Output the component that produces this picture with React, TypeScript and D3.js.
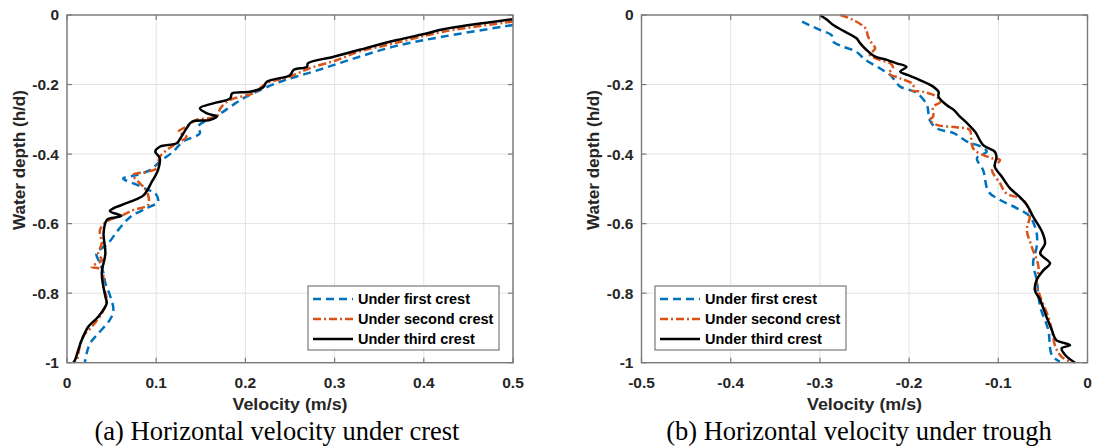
import React from 'react';
import * as d3 from 'd3';

// ---- Data: [velocity (m/s), relative depth h/d] ----
const crestTicks = [0, 0.1, 0.2, 0.3, 0.4, 0.5];
const troughTicks = [-0.5, -0.4, -0.3, -0.2, -0.1, 0];
const depthTicks = [0, -0.2, -0.4, -0.6, -0.8, -1];
const seriesNames = ['Under first crest', 'Under second crest', 'Under third crest'];

const crestFirst: [number, number][] = [
  [0.5, -0.029], [0.422, -0.062], [0.366, -0.091], [0.317, -0.129], [0.276, -0.163], [0.239, -0.192],
  [0.201, -0.235], [0.183, -0.264], [0.172, -0.283], [0.157, -0.302], [0.147, -0.321], [0.149, -0.34],
  [0.13, -0.364], [0.119, -0.393], [0.104, -0.422], [0.093, -0.446], [0.078, -0.46], [0.063, -0.47],
  [0.078, -0.488], [0.091, -0.503], [0.099, -0.513], [0.102, -0.537], [0.089, -0.556], [0.074, -0.575],
  [0.067, -0.59], [0.0575, -0.618], [0.046, -0.657], [0.033, -0.686], [0.037, -0.714], [0.041, -0.743],
  [0.043, -0.771], [0.048, -0.805], [0.052, -0.848], [0.048, -0.877], [0.035, -0.916], [0.026, -0.944],
  [0.022, -0.973], [0.02, -1.0],
];
const crestSecond: [number, number][] = [
  [0.5, -0.019], [0.422, -0.048], [0.366, -0.082], [0.328, -0.105], [0.302, -0.13], [0.272, -0.153],
  [0.25, -0.177], [0.224, -0.196], [0.209, -0.225], [0.183, -0.244], [0.172, -0.268], [0.168, -0.292],
  [0.145, -0.302], [0.134, -0.321], [0.125, -0.336], [0.134, -0.35], [0.123, -0.369], [0.112, -0.388],
  [0.104, -0.408], [0.1006, -0.441], [0.089, -0.451], [0.074, -0.46], [0.08, -0.48], [0.087, -0.498],
  [0.091, -0.518], [0.091, -0.546], [0.074, -0.561], [0.063, -0.575], [0.0445, -0.594], [0.037, -0.618],
  [0.039, -0.657], [0.035, -0.686], [0.039, -0.705], [0.0277, -0.724], [0.039, -0.733], [0.041, -0.781],
  [0.0445, -0.82], [0.039, -0.858], [0.028, -0.896], [0.018, -0.925], [0.0127, -0.973], [0.011, -1.0],
];
const crestThird: [number, number][] = [
  [0.5, -0.012], [0.422, -0.041], [0.403, -0.053], [0.37, -0.072], [0.328, -0.1], [0.299, -0.12],
  [0.27, -0.139], [0.269, -0.149], [0.254, -0.158], [0.25, -0.173], [0.224, -0.192], [0.22, -0.208],
  [0.205, -0.221], [0.185, -0.226], [0.183, -0.24], [0.164, -0.254], [0.149, -0.268], [0.157, -0.283],
  [0.168, -0.292], [0.16, -0.302], [0.14, -0.307], [0.134, -0.326], [0.127, -0.355], [0.123, -0.369],
  [0.104, -0.379], [0.099, -0.393], [0.104, -0.412], [0.102, -0.446], [0.095, -0.48], [0.086, -0.518],
  [0.071, -0.537], [0.052, -0.556], [0.048, -0.564], [0.061, -0.578], [0.048, -0.585], [0.0445, -0.59],
  [0.041, -0.628], [0.043, -0.686], [0.039, -0.743], [0.043, -0.81], [0.0445, -0.829], [0.035, -0.868],
  [0.024, -0.896], [0.0165, -0.935], [0.0127, -0.963], [0.009, -0.992], [0.007, -1.0],
];

const troughFirst: [number, number][] = [
  [-0.32, -0.019], [-0.3, -0.043], [-0.287, -0.058], [-0.285, -0.077], [-0.274, -0.091], [-0.259, -0.106],
  [-0.249, -0.129], [-0.233, -0.153], [-0.221, -0.173], [-0.21, -0.206], [-0.199, -0.216], [-0.191, -0.225],
  [-0.18, -0.259], [-0.177, -0.302], [-0.169, -0.326], [-0.15, -0.34], [-0.135, -0.364], [-0.119, -0.379],
  [-0.113, -0.393], [-0.124, -0.412], [-0.117, -0.446], [-0.111, -0.508], [-0.098, -0.532], [-0.079, -0.556],
  [-0.0645, -0.58], [-0.057, -0.628], [-0.057, -0.666], [-0.061, -0.714], [-0.057, -0.762], [-0.053, -0.839],
  [-0.044, -0.906], [-0.04, -0.978], [-0.031, -0.997],
];
const troughSecond: [number, number][] = [
  [-0.277, 0], [-0.263, -0.014], [-0.249, -0.038], [-0.246, -0.062], [-0.242, -0.081], [-0.238, -0.096],
  [-0.244, -0.115], [-0.233, -0.129], [-0.221, -0.139], [-0.218, -0.153], [-0.223, -0.168], [-0.21, -0.182],
  [-0.195, -0.201], [-0.197, -0.216], [-0.184, -0.221], [-0.169, -0.235], [-0.165, -0.25], [-0.173, -0.264],
  [-0.173, -0.292], [-0.177, -0.302], [-0.169, -0.316], [-0.147, -0.323], [-0.132, -0.331], [-0.13, -0.369],
  [-0.127, -0.388], [-0.107, -0.412], [-0.098, -0.417], [-0.107, -0.446], [-0.098, -0.484], [-0.091, -0.513],
  [-0.072, -0.532], [-0.0645, -0.575], [-0.068, -0.618], [-0.0626, -0.666], [-0.055, -0.724], [-0.057, -0.772],
  [-0.053, -0.81], [-0.044, -0.868], [-0.04, -0.906], [-0.036, -0.954], [-0.029, -0.983], [-0.0196, -0.997],
];
const troughThird: [number, number][] = [
  [-0.3, 0], [-0.292, -0.014], [-0.285, -0.029], [-0.272, -0.048], [-0.259, -0.067], [-0.255, -0.081],
  [-0.248, -0.1], [-0.238, -0.12], [-0.225, -0.129], [-0.214, -0.139], [-0.203, -0.149], [-0.21, -0.163],
  [-0.201, -0.173], [-0.188, -0.187], [-0.173, -0.206], [-0.167, -0.221], [-0.167, -0.235], [-0.158, -0.259],
  [-0.15, -0.273], [-0.143, -0.292], [-0.135, -0.311], [-0.126, -0.336], [-0.117, -0.374], [-0.104, -0.393],
  [-0.102, -0.408], [-0.104, -0.436], [-0.096, -0.465], [-0.087, -0.498], [-0.076, -0.523], [-0.068, -0.546],
  [-0.061, -0.58], [-0.051, -0.623], [-0.0476, -0.657], [-0.053, -0.686], [-0.042, -0.714], [-0.049, -0.733],
  [-0.057, -0.762], [-0.059, -0.791], [-0.053, -0.82], [-0.046, -0.868], [-0.04, -0.906], [-0.035, -0.935],
  [-0.0196, -0.949], [-0.029, -0.959], [-0.025, -0.978], [-0.014, -1.0],
];

// ---- Styling ----
const seriesStyles = [
  { color: '#0072BD', dash: '8,5' },
  { color: '#D95319', dash: '8,3,2,3' },
  { color: '#000000', dash: undefined as string | undefined },
];

const sansStyle = { fontFamily: 'Liberation Sans, Arial, sans-serif', fontWeight: 700 };
const serifStyle = { fontFamily: 'Liberation Serif, Times New Roman, serif' };

const TOP = 15;
const BOTTOM = 362.7;

interface PanelProps {
  x0: number;
  x1: number;
  domain: [number, number];
  ticks: number[];
  series: [number, number][][];
  caption: string;
  captionX: number;
  legendX: number;
  labelX: number;
}

function Panel({ x0, x1, domain, ticks, series, caption, captionX, legendX, labelX }: PanelProps) {
  const x = d3.scaleLinear().domain(domain).range([x0, x1]);
  const y = d3.scaleLinear().domain([-1, 0]).range([BOTTOM, TOP]);
  const line = d3
    .line<[number, number]>()
    .x((d) => x(d[0]))
    .y((d) => y(d[1]))
    .curve(d3.curveCatmullRom.alpha(0.5));
  const tickLen = 5;
  const frame = '#7a7a7a';
  const legendW = 191;
  const legendH = 64;
  const legendY = 286;
  const midX = (x0 + x1) / 2;

  return (
    <g>
      {/* grid */}
      {ticks.map((t) => (
        <line key={'gx' + t} x1={x(t)} x2={x(t)} y1={TOP} y2={BOTTOM} stroke="#e3e3e3" strokeWidth={1} />
      ))}
      {depthTicks.map((t) => (
        <line key={'gy' + t} x1={x0} x2={x1} y1={y(t)} y2={y(t)} stroke="#e3e3e3" strokeWidth={1} />
      ))}

      {/* profiles */}
      <g>
        {series.map((s, i) => (
          <path
            key={i}
            d={line(s) || ''}
            fill="none"
            stroke={seriesStyles[i].color}
            strokeWidth={2.5}
            strokeDasharray={seriesStyles[i].dash}
          />
        ))}
      </g>

      {/* frame and ticks */}
      <rect x={x0} y={TOP} width={x1 - x0} height={BOTTOM - TOP} fill="none" stroke={frame} strokeWidth={1.4} />
      {ticks.map((t) => (
        <g key={'tx' + t}>
          <line x1={x(t)} x2={x(t)} y1={BOTTOM} y2={BOTTOM - tickLen} stroke={frame} strokeWidth={1.2} />
          <line x1={x(t)} x2={x(t)} y1={TOP} y2={TOP + tickLen} stroke={frame} strokeWidth={1.2} />
          <text x={x(t)} y={388} textAnchor="middle" style={{ ...sansStyle, fontSize: 15.5 }} fill="#262626">
            {String(t)}
          </text>
        </g>
      ))}
      {depthTicks.map((t) => (
        <g key={'ty' + t}>
          <line x1={x0} x2={x0 + tickLen} y1={y(t)} y2={y(t)} stroke={frame} strokeWidth={1.2} />
          <line x1={x1} x2={x1 - tickLen} y1={y(t)} y2={y(t)} stroke={frame} strokeWidth={1.2} />
          <text
            x={x0 - 8}
            y={y(t)}
            dy="0.35em"
            textAnchor="end"
            style={{ ...sansStyle, fontSize: 15.5 }}
            fill="#262626"
          >
            {String(t)}
          </text>
        </g>
      ))}

      {/* axis titles */}
      <text
        x={midX}
        y={410}
        textAnchor="middle"
        style={{ ...sansStyle, fontSize: 16 }}
        fill="#262626"
        textLength={115}
        lengthAdjust="spacingAndGlyphs"
      >
        Velocity (m/s)
      </text>
      <text
        transform={`translate(${labelX},160) rotate(-90)`}
        textAnchor="middle"
        dy="0.35em"
        style={{ ...sansStyle, fontSize: 16 }}
        fill="#262626"
        textLength={140}
        lengthAdjust="spacingAndGlyphs"
      >
        Water depth (h/d)
      </text>

      {/* legend */}
      <g>
        <rect x={legendX} y={legendY} width={legendW} height={legendH} fill="#ffffff" stroke={frame} strokeWidth={1.2} />
        {seriesNames.map((name, i) => {
          const ly = legendY + 13 + i * 20;
          return (
            <g key={name}>
              <line
                x1={legendX + 5}
                x2={legendX + 45}
                y1={ly}
                y2={ly}
                stroke={seriesStyles[i].color}
                strokeWidth={2.5}
                strokeDasharray={seriesStyles[i].dash}
              />
              <text x={legendX + 50} y={ly} dy="0.36em" style={{ ...sansStyle, fontSize: 14.5 }} fill="#000000">
                {name}
              </text>
            </g>
          );
        })}
      </g>

      {/* caption */}
      <text x={captionX} y={440} textAnchor="middle" style={{ ...serifStyle, fontSize: 26.5 }} fill="#000000">
        {caption}
      </text>
    </g>
  );
}

export default function App() {
  return (
    <svg
      width={1097}
      height={448}
      viewBox="0 0 1097 448"
      style={{ position: 'absolute', left: 0, top: 0, background: '#ffffff' }}
    >
      <rect x={0} y={0} width={1097} height={448} fill="#ffffff" />
      <Panel
        x0={67}
        x1={513}
        domain={[0, 0.5]}
        ticks={crestTicks}
        series={[crestFirst, crestSecond, crestThird]}
        caption="(a) Horizontal velocity under crest"
        captionX={277}
        legendX={308}
        labelX={19}
      />
      <Panel
        x0={641.5}
        x1={1087.5}
        domain={[-0.5, 0]}
        ticks={troughTicks}
        series={[troughFirst, troughSecond, troughThird]}
        caption="(b) Horizontal velocity under trough"
        captionX={859}
        legendX={655}
        labelX={593}
      />
    </svg>
  );
}
